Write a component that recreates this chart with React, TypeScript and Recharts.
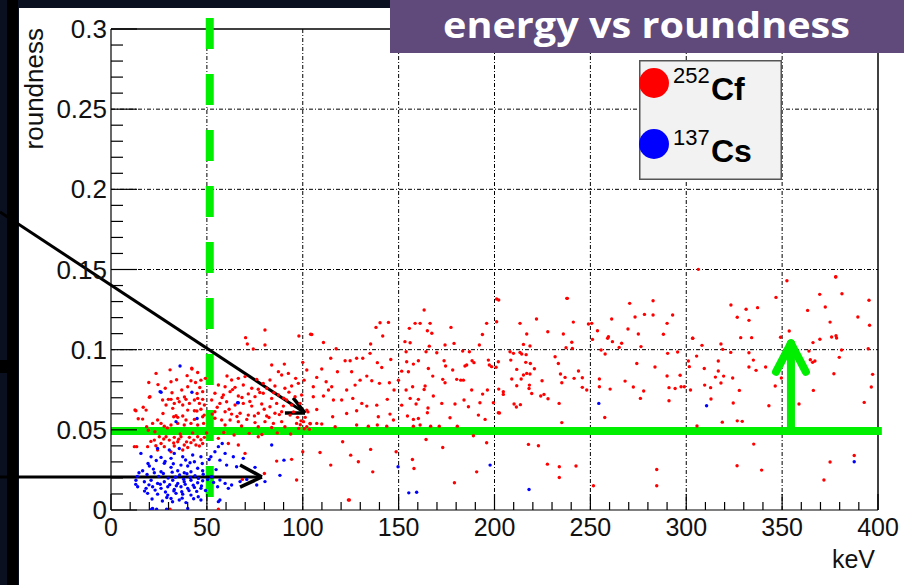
import { ScatterChart, Scatter, XAxis, YAxis, ReferenceLine } from 'recharts'

// 252Cf events: [energy keV, roundness]
const cf252: [number, number][] = [
  [23.5, 0.0852], [42.2, 0.0879], [45.2, 0.0858], [31.3, 0.08], [41.7, 0.0806], [46.9, 0.081], [49.2, 0.0821],
  [40, 0.0769], [36.9, 0.0748], [44.9, 0.0727], [47.8, 0.0738], [20, 0.0703], [26.9, 0.0686], [29.9, 0.069],
  [31.3, 0.069], [34.8, 0.0696], [35.6, 0.0675], [39.1, 0.069], [43.5, 0.0686], [45.2, 0.0696], [47.8, 0.069],
  [28.7, 0.0655], [33, 0.0665], [37.4, 0.0655], [40.9, 0.0665], [46.1, 0.0665], [48.7, 0.0655], [13, 0.0619],
  [18.3, 0.0623], [32.2, 0.0634], [40, 0.0623], [43.5, 0.0619], [46.9, 0.0628], [16.5, 0.0567], [24.3, 0.0561],
  [32.7, 0.0582], [34.8, 0.0578], [37.4, 0.0586], [39.1, 0.0561], [43.5, 0.0565], [47.8, 0.0582], [21.7, 0.054],
  [26.1, 0.054], [27.8, 0.0523], [31.3, 0.053], [34.8, 0.054], [38.2, 0.053], [41.7, 0.054], [45.2, 0.053],
  [48.3, 0.054], [25.2, 0.0457], [28.7, 0.0457], [33, 0.0453], [36.5, 0.0457], [40.9, 0.0453], [45.2, 0.0457],
  [48.7, 0.0453], [22.6, 0.0436], [26.1, 0.0415], [30.4, 0.0436], [34.8, 0.0426], [38.2, 0.0405], [41.7, 0.042],
  [44.3, 0.0405], [47.8, 0.0415], [12.2, 0.0395], [19.1, 0.0395], [27.8, 0.0395], [33, 0.0399], [40, 0.039],
  [46.1, 0.0399], [24.3, 0.0374], [31.3, 0.0363], [37.4, 0.0374], [12.5, 0.0624], [13.4, 0.0395], [18.6, 0.052],
  [20.3, 0.0707], [42.1, 0.0884], [30.8, 0.0005], [56, 0.0005],
  [14.2, 0.0569], [16.8, 0.0641], [19.5, 0.0497], [22.9, 0.0488], [27.1, 0.0602], [29.4, 0.0512], [31.8, 0.0731],
  [33.9, 0.0588], [36.1, 0.0474], [38.3, 0.0705], [42.6, 0.0481], [44.8, 0.0617], [46.3, 0.0764], [48.6, 0.0592],
  [49.9, 0.048], [20.8, 0.0428], [23.4, 0.0401], [27.5, 0.0443], [32.7, 0.0418], [35.3, 0.0442], [39.4, 0.0425],
  [43.2, 0.0436], [46.9, 0.0438], [24.5, 0.0782], [28.3, 0.0759], [34.2, 0.0812], [39.7, 0.0838], [44.1, 0.0795],
  [30.8, 0.0874], [19.7, 0.0795],
  [70.2, 0.1075], [80.3, 0.1029], [71.1, 0.1035], [74.2, 0.1004], [83.8, 0.0904], [90.4, 0.091], [100, 0.0921],
  [92.5, 0.0852], [87.3, 0.0863], [89, 0.0842], [96.3, 0.0821], [60.5, 0.0836], [62.9, 0.0811], [66.4, 0.0821],
  [69.9, 0.0832], [76, 0.0815], [79.4, 0.079], [82.9, 0.0811], [56, 0.078], [59.5, 0.0769], [64.7, 0.0765],
  [69, 0.078], [73.4, 0.0759], [76.8, 0.0753], [81.2, 0.0759], [85.5, 0.0773], [90.7, 0.0759], [94.2, 0.0773],
  [97.7, 0.079], [54.2, 0.0728], [58.6, 0.0717], [62.1, 0.0738], [66.4, 0.0711], [71.6, 0.0724], [75.1, 0.0707],
  [79.4, 0.0728], [83.8, 0.0696], [87.3, 0.0717], [91.6, 0.0686], [96, 0.0707], [99.4, 0.0717], [52.5, 0.0686],
  [56.8, 0.0665], [60.3, 0.0675], [64.7, 0.0655], [69, 0.0665], [73.4, 0.0648], [78.6, 0.0661], [82.9, 0.0644],
  [86.4, 0.0665], [89.9, 0.0648], [94.2, 0.0655], [98.6, 0.0665], [54.2, 0.0613], [59.5, 0.0613], [62.9, 0.0598],
  [67.3, 0.0603], [71.6, 0.0592], [76.8, 0.0603], [81.2, 0.0586], [85.5, 0.0603], [89, 0.0613], [93.4, 0.0592],
  [54.2, 0.0572], [57.7, 0.0561], [62.1, 0.0561], [66.4, 0.0551], [70.8, 0.0565], [75.1, 0.0545], [80.3, 0.0551],
  [84.7, 0.054], [89, 0.0551], [96.8, 0.054], [59.5, 0.053], [68.1, 0.0524], [76.8, 0.0519], [83.8, 0.0515],
  [90.7, 0.0519], [56, 0.0447], [61.2, 0.0415], [66.4, 0.0405], [76.8, 0.0457], [69.9, 0.0353], [86.4, 0.0305],
  [94.2, 0.0316], [80, 0.0228], [96.8, 0.0187], [68.5, 0.0191], [80.3, 0.1123], [98, 0.1085], [104.1, 0.1096],
  [52.8, 0.0598], [55.4, 0.0641], [57.9, 0.0702], [61.6, 0.0628], [63.4, 0.0751], [65.7, 0.0583], [68.3, 0.0702],
  [72.4, 0.0677], [74.8, 0.0587], [77.6, 0.0733], [79.9, 0.0628], [82.4, 0.0577], [84.9, 0.0732], [87.8, 0.0595],
  [90.1, 0.0697], [92.8, 0.0735], [95.2, 0.0612], [97.3, 0.0578], [99.1, 0.0556], [101.3, 0.0578], [102.7, 0.0612],
  [103.9, 0.0538], [58.8, 0.0483], [64.2, 0.0468], [72.1, 0.0478], [78.7, 0.0471], [86.7, 0.0481], [93.7, 0.0474],
  [100.8, 0.0507], [103.5, 0.0503], [97.9, 0.0509], [98.7, 0.0532], [100.4, 0.0551], [102.1, 0.052],
  [104.7, 0.1095], [110.8, 0.1045], [117.4, 0.1006], [114.6, 0.0946], [122.1, 0.0931], [124.7, 0.0931],
  [128.1, 0.0946], [131.3, 0.0946], [135.1, 0.0977], [135.4, 0.1035], [138.2, 0.1139], [140.3, 0.1168],
  [144.7, 0.117], [141.7, 0.1085], [138.9, 0.0919], [141.2, 0.0889], [145.9, 0.0939], [102.1, 0.0873],
  [100.7, 0.081], [107.3, 0.0827], [109.9, 0.0879], [105.5, 0.0769], [112.2, 0.08], [115.1, 0.0769],
  [118.1, 0.0862], [125.5, 0.0862], [127.3, 0.0779], [129.9, 0.081], [133.4, 0.0835], [136, 0.0806], [140, 0.079],
  [145.2, 0.0794], [105.5, 0.0706], [110.8, 0.0711], [113.4, 0.0748], [116, 0.0686], [120.3, 0.0686],
  [122.9, 0.0748], [126.1, 0.0696], [130.8, 0.0665], [133.4, 0.0648], [138.6, 0.0654], [144.1, 0.069],
  [147.6, 0.0748], [149.9, 0.081], [102.1, 0.0623], [107.3, 0.0627], [115.6, 0.0582], [122.9, 0.0602],
  [128.1, 0.0619], [139.4, 0.0582], [145.5, 0.0598], [147.3, 0.0561], [103.8, 0.054], [107.3, 0.054],
  [109.9, 0.0536], [116.9, 0.0519], [128.1, 0.053], [134.2, 0.0523], [138.9, 0.053], [143.8, 0.0523],
  [100, 0.0363], [109, 0.0359], [114.6, 0.028], [120.8, 0.0426], [125, 0.0342], [129, 0.0301], [135.4, 0.0378],
  [136.5, 0.0238], [124.3, 0.0062], [148.7, 0.0363], [123.8, 0.0062],
  [153.3, 0.105], [156, 0.1043], [155.6, 0.1133], [158.6, 0.1164], [161.2, 0.1164], [163.3, 0.1247],
  [166.4, 0.1164], [165, 0.1118], [167.3, 0.1102], [166, 0.1022], [164.3, 0.0987], [169.9, 0.0981],
  [174.2, 0.1029], [177.3, 0.1139], [178.9, 0.1039], [183.4, 0.0991], [186.9, 0.0987], [192.1, 0.1029],
  [193.7, 0.1095], [195.9, 0.1164], [202.2, 0.131], [201.1, 0.1174], [153.9, 0.0987], [154.2, 0.0925],
  [157.7, 0.091], [151.6, 0.0866], [155.1, 0.0862], [160.3, 0.0931], [165.5, 0.0883], [167.8, 0.0835],
  [173.7, 0.0931], [174.5, 0.0898], [178.2, 0.0873], [180.3, 0.0815], [183.8, 0.081], [184.6, 0.0898],
  [188.3, 0.0931], [189.3, 0.0919], [185.5, 0.0904], [197.3, 0.0904], [198.5, 0.0894], [196.8, 0.0935],
  [153.9, 0.0748], [157.3, 0.0769], [163.8, 0.0773], [163.3, 0.0752], [168.1, 0.0711], [173, 0.0815],
  [174.2, 0.0794], [182.4, 0.081], [188.1, 0.0748], [193.8, 0.0723], [196.3, 0.0748], [151.6, 0.0654],
  [156, 0.0696], [159.1, 0.0661], [160.3, 0.069], [165.3, 0.0636], [172.5, 0.0665], [179.4, 0.0661],
  [184.1, 0.0686], [192.4, 0.0669], [199.4, 0.0669], [202, 0.0607], [154.6, 0.0586], [157.7, 0.0565],
  [160.3, 0.0571], [165, 0.0607], [176.8, 0.0575], [186.4, 0.0644], [191.6, 0.0592], [195.1, 0.0565],
  [157.7, 0.0523], [161.2, 0.053], [166.7, 0.0523], [171.2, 0.0523], [180.6, 0.0523], [189, 0.0463],
  [195.9, 0.0419], [164.3, 0.044], [173, 0.039], [157.2, 0.0315], [158, 0.0259], [190.7, 0.0238], [179.1, 0.017],
  [213.3, 0.1164], [221.9, 0.1191], [216.8, 0.1098], [227.8, 0.1112], [235.9, 0.1098], [238, 0.132],
  [241.1, 0.1172], [240.3, 0.1046], [240.6, 0.1008], [237.3, 0.1012], [249, 0.116], [215.1, 0.1033],
  [218.5, 0.1023], [208.1, 0.0987], [209.9, 0.0977], [213.3, 0.0983], [214.2, 0.0973], [216.5, 0.0969],
  [208.5, 0.0935], [216.3, 0.0921], [218.7, 0.0914], [231.6, 0.0956], [233.3, 0.0914], [202, 0.0925],
  [200.8, 0.089], [211.6, 0.0877], [220.8, 0.0881], [216.8, 0.0852], [218.5, 0.0848], [215.1, 0.0842],
  [213.9, 0.0817], [209, 0.0817], [224.8, 0.0806], [234.4, 0.0848], [236.8, 0.0827], [241.5, 0.0821],
  [243.8, 0.0867], [245.8, 0.0825], [211.6, 0.0775], [218.2, 0.0779], [218, 0.0758], [235.1, 0.0794],
  [202.2, 0.0754], [204.6, 0.0738], [204.6, 0.0721], [219.4, 0.0727], [225.8, 0.0721], [224.1, 0.0711],
  [227.9, 0.0694], [245.8, 0.0765], [248.1, 0.0748], [210.2, 0.0661], [211.4, 0.0642], [213.5, 0.0657],
  [233.7, 0.0665], [202.6, 0.0605], [235.1, 0.0545], [217.7, 0.0409], [222.9, 0.0401], [227.6, 0.0286],
  [233.8, 0.027], [242.5, 0.0274], [233.8, 0.0203], [251.6, 0.0151], [201.1, 0.1316], [237.7, 0.132],
  [250.7, 0.1164], [253.7, 0.1118], [259, 0.1071], [259.4, 0.1081], [261.5, 0.105], [266.3, 0.104],
  [265, 0.1014], [261.1, 0.1191], [270.5, 0.1289], [269.6, 0.1129], [273.3, 0.1204], [275, 0.1098],
  [276.4, 0.1019], [278.2, 0.122], [282.7, 0.1305], [282.7, 0.1216], [288.1, 0.1096], [290, 0.1164],
  [292.9, 0.1216], [251.1, 0.1064], [255.6, 0.0998], [257.7, 0.0973], [290.3, 0.0977], [295.5, 0.0985],
  [303.4, 0.1071], [274.2, 0.0914], [283.7, 0.0892], [254.7, 0.0817], [268.1, 0.0804], [254.7, 0.0769],
  [260.3, 0.0754], [272.4, 0.0767], [277.8, 0.0742], [276.1, 0.0696], [290, 0.0836], [296.8, 0.084],
  [291, 0.0763], [294.2, 0.0758], [297.3, 0.0769], [299, 0.0769], [291, 0.0681], [301.1, 0.0929],
  [301.6, 0.0894], [302.2, 0.0748], [257.5, 0.0577], [284.6, 0.0253], [284.6, 0.0151],
  [306.3, 0.1501], [323.3, 0.1279], [331.2, 0.1252], [337.2, 0.1262], [326.6, 0.1202], [332.7, 0.1183],
  [346.8, 0.1326], [352.5, 0.143], [303.3, 0.1071], [308.2, 0.1027], [318.1, 0.1035], [319, 0.1002],
  [323.2, 0.0983], [328.4, 0.1075], [334.1, 0.1075], [332.7, 0.0981], [335, 0.0935], [305.4, 0.096],
  [309.4, 0.0883], [316.7, 0.0929], [316.7, 0.0867], [319.5, 0.0835], [315.2, 0.0829], [324.2, 0.0823],
  [332.7, 0.0892], [336.4, 0.0871], [341.4, 0.0892], [349.2, 0.1077], [349.6, 0.0823], [309.6, 0.0779],
  [312.7, 0.0763], [318.1, 0.0792], [327.7, 0.0746], [346.4, 0.0773], [312.9, 0.0692], [324.5, 0.0667],
  [343.1, 0.065], [305.6, 0.0524], [318.8, 0.0548], [326.6, 0.0556], [329.2, 0.0553], [335.2, 0.0411],
  [326.5, 0.0276], [339.3, 0.0249], [353.7, 0.1116], [363.3, 0.1245], [369.6, 0.1345], [372.5, 0.1266],
  [377.9, 0.1453], [381.2, 0.1349], [375, 0.1172], [375.8, 0.1079], [378.1, 0.1087], [378.4, 0.1073],
  [389.5, 0.1204], [395.3, 0.1308], [395.6, 0.1152], [366.1, 0.1044], [369.7, 0.1065], [364, 0.0991],
  [381, 0.0998], [394.9, 0.1006], [364.7, 0.0937], [365.9, 0.0921], [367.1, 0.0929], [379.8, 0.0952],
  [377, 0.085], [397.2, 0.0846], [366.3, 0.0746], [358.8, 0.0661], [396.5, 0.0767], [392.8, 0.0671],
  [375, 0.0299], [371.8, 0.0187], [387.6, 0.034], [378, 0.1455],
]

// 137Cs events: [energy keV, roundness]
const cs137: [number, number][] = [
  [36, 0.0898], [26.1, 0.0734], [42.2, 0.0734], [33.9, 0.0551], [44.9, 0.0571], [25.6, 0.0738], [66.4, 0.0669],
  [24.3, 0.0384], [30.4, 0.0374], [35.6, 0.0384], [33, 0.0353], [15.6, 0.0353], [20.9, 0.0332], [26.1, 0.0328],
  [31.3, 0.0322], [37.4, 0.0332], [42.6, 0.0343], [46.9, 0.0332], [27.8, 0.0291], [36.5, 0.028], [40, 0.0274],
  [43.5, 0.0301], [20, 0.0274], [31.3, 0.0266], [45.2, 0.026], [22.6, 0.0232], [26.1, 0.0239], [34.8, 0.0245],
  [38.2, 0.0232], [41.7, 0.0239], [47.8, 0.0245], [13, 0.0186], [17.4, 0.0176], [20.9, 0.0186], [24.3, 0.0166],
  [27.8, 0.0176], [32.2, 0.0186], [34.8, 0.0166], [38.2, 0.0176], [41.7, 0.0186], [45.2, 0.017], [47.8, 0.0182],
  [13.9, 0.0145], [18.3, 0.0135], [21.7, 0.0145], [26.1, 0.0135], [29.6, 0.0145], [33, 0.0128], [36.5, 0.0145],
  [40, 0.0135], [43.5, 0.0141], [46.9, 0.0135], [19.1, 0.0104], [24.3, 0.0099], [29.6, 0.0093], [33.9, 0.0104],
  [37.4, 0.0099], [41.7, 0.0093], [45.5, 0.0083], [35.6, 0.0062], [31.3, 0.0072], [46.9, 0.0062], [21.7, 0.001],
  [40, 0.001], [21.2, 0.0005], [23.8, 0.0005], [29, 0.0005],
  [16.5, 0.0245], [18.8, 0.0221], [22.1, 0.0255], [24.9, 0.021], [27.3, 0.0228], [29.8, 0.0199], [31.9, 0.0236],
  [33.6, 0.0205], [35.8, 0.0218], [37.9, 0.0192], [39.6, 0.0226], [41.3, 0.0203], [43.8, 0.0214], [45.6, 0.0197],
  [48.1, 0.0223], [50.4, 0.019], [17.5, 0.0118], [19.8, 0.0157], [23, 0.0124], [25.7, 0.0161], [28.4, 0.0112],
  [30.6, 0.0158], [32.8, 0.0119], [34.1, 0.0151], [36.9, 0.0114], [38.7, 0.016], [40.7, 0.0121], [42.9, 0.0154],
  [44.7, 0.0116], [47.2, 0.015], [49.3, 0.0122], [53.5, 0.0172], [21.4, 0.0069], [26.8, 0.0056], [29.1, 0.0078],
  [32.1, 0.0051], [37.1, 0.0074], [39.1, 0.0046], [43.1, 0.007], [28.2, 0.0303], [32.5, 0.0288], [38.9, 0.0312],
  [41.2, 0.0295], [47.6, 0.029], [23.6, 0.0309], [19.3, 0.029], [54.8, 0.0252], [51.2, 0.0315], [14.6, 0.0232],
  [12.9, 0.016], [13.7, 0.021],
  [66, 0.0669], [56, 0.0395], [58, 0.0415], [54.2, 0.0363], [59.5, 0.0353], [52.1, 0.0332], [56.8, 0.0311],
  [63.8, 0.0332], [69, 0.0322], [83.8, 0.0405], [60.3, 0.028], [65.5, 0.027], [75.1, 0.0266], [90.2, 0.0311],
  [88.1, 0.0216], [80.3, 0.0177], [76, 0.0156], [52.5, 0.0208], [56.8, 0.0187], [59.5, 0.0166], [62.9, 0.0156],
  [67.3, 0.0177], [70.8, 0.0191], [55.6, 0.0145], [61.2, 0.0135], [56.8, 0.0062], [56, 0.0052],
  [149.7, 0.027], [155.3, 0.0107], [159.4, 0.0111], [197.7, 0.028], [254.4, 0.0665], [218, 0.0128],
  [310.6, 0.065], [387.6, 0.0301],
]

const xTicks = Array.from({ length: 41 }, (_, i) => i * 10)
const yTicks = Array.from({ length: 31 }, (_, i) => i / 100)
const xGrid = [50, 100, 150, 200, 250, 300, 350]
const yGrid = [0.05, 0.1, 0.15, 0.2, 0.25]

const cfData = cf252.map(([x, y]) => ({ x, y }))
const csData = cs137.map(([x, y]) => ({ x, y }))

const axisFont = '"Liberation Sans", Arial, sans-serif'

function XTick(p: any) {
  const v = p.payload.value
  const major = v % 50 === 0
  return (
    <g>
      <line x1={p.x} x2={p.x} y1={p.y} y2={p.y - (major ? 16 : 8)} stroke="#000" strokeWidth={1.2} />
      {major && (
        <text x={p.x} y={p.y + 26} textAnchor="middle" fontSize={25} fontFamily={axisFont} fill="#111">
          {v}
        </text>
      )}
    </g>
  )
}

function YTick(p: any) {
  const v = p.payload.value
  const major = Math.round(v * 100) % 5 === 0
  return (
    <g>
      <line x1={p.x} x2={p.x + (major ? 26 : 12)} y1={p.y} y2={p.y} stroke="#000" strokeWidth={1.2} />
      {major && (
        <text x={p.x - 4} y={p.y + 9} textAnchor="end" fontSize={26} fontFamily={axisFont} fill="#111">
          {String(Math.round(v * 100) / 100)}
        </text>
      )}
    </g>
  )
}

const dot = (color: string) => (p: any) => <circle cx={p.cx} cy={p.cy} r={1.7} fill={color} />

export default function App() {
  return (
    <div style={{ position: 'absolute', left: 0, top: 0, width: 904, height: 585, background: '#0b1020', overflow: 'hidden' }}>
      <div style={{ position: 'absolute', left: 19, top: 8, width: 885, height: 577, background: '#fff' }} />
      <div style={{ position: 'absolute', left: 7, top: 0, width: 11, height: 585, background: '#000' }} />
      <div style={{ position: 'absolute', left: 0, top: 360, width: 8, height: 13, background: '#000' }} />
      <div style={{ position: 'absolute', left: 0, top: 0 }}>
        <ScatterChart width={904} height={585} margin={{ top: 29, right: 26, bottom: 35, left: 51 }}>
          <XAxis
            type="number"
            dataKey="x"
            domain={[0, 400]}
            ticks={xTicks}
            interval={0}
            allowDataOverflow
            height={40}
            tickSize={0}
            tickMargin={0}
            tick={XTick}
            axisLine={{ stroke: '#000', strokeWidth: 1.2 }}
            label={{
              content: (lp: any) => (
                <text
                  x={lp.viewBox.x + lp.viewBox.width - 3}
                  y={lp.viewBox.y + 58}
                  textAnchor="end"
                  fontSize={25}
                  fontFamily={axisFont}
                  fill="#111"
                >
                  keV
                </text>
              ),
            }}
          />
          <YAxis
            type="number"
            dataKey="y"
            domain={[0, 0.3]}
            ticks={yTicks}
            interval={0}
            allowDataOverflow
            width={60}
            tickSize={0}
            tickMargin={0}
            tick={YTick}
            axisLine={{ stroke: '#000', strokeWidth: 1.2 }}
            label={{
              content: () => (
                <text
                  transform="translate(43,28) rotate(-90)"
                  textAnchor="end"
                  fontSize={26}
                  fontFamily={axisFont}
                  fill="#111"
                >
                  roundness
                </text>
              ),
            }}
          />
          {xGrid.map((v) => (
            <ReferenceLine key={'gx' + v} x={v} stroke="#000" strokeWidth={1} strokeDasharray="4 2 1 2" />
          ))}
          {yGrid.map((v) => (
            <ReferenceLine key={'gy' + v} y={v} stroke="#000" strokeWidth={1} strokeDasharray="4 2 1 2" />
          ))}
          <ReferenceLine y={0.3} stroke="#000" strokeWidth={1.5} />
          <ReferenceLine x={400} stroke="#000" strokeWidth={1.5} />
          <Scatter name="252Cf" data={cfData} fill="#ff0000" shape={dot('#ff0000')} isAnimationActive={false} />
          <Scatter name="137Cs" data={csData} fill="#0000ff" shape={dot('#0000ff')} isAnimationActive={false} />
          {/* green cuts */}
          <ReferenceLine
            segment={[{ x: 51.5, y: 0.3069 }, { x: 51.5, y: 0.0081 }]}
            ifOverflow="visible"
            stroke="#00ee00"
            strokeWidth={8}
            strokeDasharray="31 25"
          />
          <ReferenceLine
            segment={[{ x: 0, y: 0.0493 }, { x: 402, y: 0.0493 }]}
            ifOverflow="visible"
            stroke="#00ee00"
            strokeWidth={8}
          />
          <ReferenceLine
            segment={[{ x: 354.6, y: 0.0493 }, { x: 354.6, y: 0.1039 }]}
            ifOverflow="visible"
            stroke="#00ee00"
            strokeWidth={8}
            strokeLinecap="round"
          />
          <ReferenceLine
            segment={[{ x: 346.8, y: 0.0862 }, { x: 354.6, y: 0.1039 }]}
            ifOverflow="visible"
            stroke="#00ee00"
            strokeWidth={8}
            strokeLinecap="round"
          />
          <ReferenceLine
            segment={[{ x: 362.4, y: 0.0862 }, { x: 354.6, y: 0.1039 }]}
            ifOverflow="visible"
            stroke="#00ee00"
            strokeWidth={8}
            strokeLinecap="round"
          />
          {/* black annotation arrows */}
          <ReferenceLine
            segment={[{ x: -57.9, y: 0.1859 }, { x: 101.2, y: 0.0605 }]}
            ifOverflow="visible"
            stroke="#000"
            strokeWidth={3}
          />
          <ReferenceLine
            segment={[{ x: 90.7, y: 0.0605 }, { x: 101.2, y: 0.0605 }]}
            ifOverflow="visible"
            stroke="#000"
            strokeWidth={3.5}
          />
          <ReferenceLine
            segment={[{ x: 95, y: 0.0699 }, { x: 101.2, y: 0.0605 }]}
            ifOverflow="visible"
            stroke="#000"
            strokeWidth={3.5}
          />
          <ReferenceLine
            segment={[{ x: -57.9, y: 0.0206 }, { x: 78.7, y: 0.0206 }]}
            ifOverflow="visible"
            stroke="#000"
            strokeWidth={3}
          />
          <ReferenceLine
            segment={[{ x: 67.3, y: 0.0281 }, { x: 78.7, y: 0.0206 }]}
            ifOverflow="visible"
            stroke="#000"
            strokeWidth={3.5}
          />
          <ReferenceLine
            segment={[{ x: 67.3, y: 0.0143 }, { x: 78.7, y: 0.0206 }]}
            ifOverflow="visible"
            stroke="#000"
            strokeWidth={3.5}
          />
        </ScatterChart>
      </div>
      {/* legend */}
      <svg
        width={143}
        height={120}
        style={{ position: 'absolute', left: 639, top: 60 }}
        fontFamily={axisFont}
      >
        <rect x={0.75} y={0.75} width={141.5} height={118.5} fill="#f2f2f2" stroke="#555" strokeWidth={1.5} />
        <circle cx={15} cy={23} r={15} fill="#ff0000" />
        <text x={34} y={23} fontSize={22} fill="#000">252</text>
        <text x={72} y={40} fontSize={32} fontWeight="bold" fill="#000">Cf</text>
        <circle cx={15} cy={84} r={15} fill="#0000ff" />
        <text x={34} y={85} fontSize={22} fill="#000">137</text>
        <text x={72} y={102} fontSize={32} fontWeight="bold" fill="#000">Cs</text>
      </svg>
      {/* title box */}
      <svg width={514} height={53} style={{ position: 'absolute', left: 390, top: 0 }}>
        <rect x={0} y={0} width={514} height={53} fill="#604a7b" />
        <text
          x={53}
          y={38}
          fontSize={35}
          fontWeight="bold"
          fontFamily='"Open Sans", sans-serif'
          fill="#fff"
          textLength={407}
          lengthAdjust="spacingAndGlyphs"
        >
          energy vs roundness
        </text>
      </svg>
    </div>
  )
}
